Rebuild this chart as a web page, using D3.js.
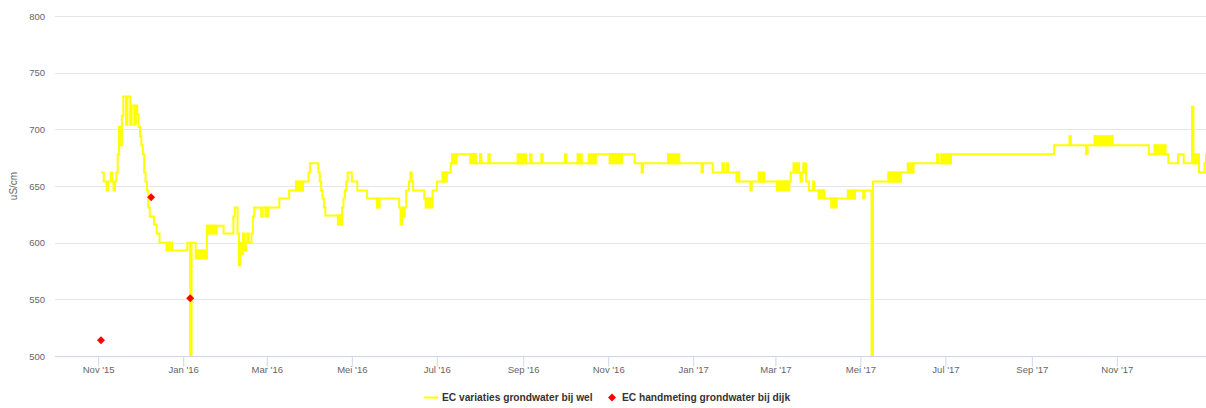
<!DOCTYPE html>
<html><head><meta charset="utf-8">
<script src="https://cdn.jsdelivr.net/npm/d3@7"></script>
<style>body{margin:0;background:#fff}svg{display:block}</style>
</head><body>
<svg id="chart" width="1206" height="408"></svg>
<script>
// ---- data ----
const wellSeries = [
["2015-11-03",662],["2015-11-05",654],["2015-11-07",646],["2015-11-08",654],["2015-11-10",662],["2015-11-11",654],["2015-11-12",646],["2015-11-13",654],["2015-11-14",662],["2015-11-15",678],["2015-11-16",702],["2015-11-17",686],["2015-11-18",712],["2015-11-19",729],["2015-11-21",704],["2015-11-22",729],["2015-11-24",704],["2015-11-25",721],["2015-11-27",704],["2015-11-28",721],["2015-11-29",713],["2015-11-30",702],
["2015-12-01",694],["2015-12-02",686],["2015-12-03",678],["2015-12-04",662],["2015-12-05",654],["2015-12-06",646],["2015-12-07",631],["2015-12-08",623],["2015-12-11",616],["2015-12-13",608],["2015-12-15",600],["2015-12-24",593],
["2016-01-04",600],["2016-01-06",500],["2016-01-07",600],["2016-01-10",593],["2016-01-18",615],["2016-01-30",608],
["2016-02-06",623],["2016-02-07",631],["2016-02-09",608],["2016-02-10",580],["2016-02-11",600],["2016-02-12",590],["2016-02-13",608],["2016-02-14",593],["2016-02-15",600],["2016-02-16",608],["2016-02-17",600],["2016-02-19",608],["2016-02-20",623],["2016-02-21",631],["2016-02-26",623],["2016-02-27",631],
["2016-03-10",639],["2016-03-17",646],["2016-03-27",654],["2016-03-31",662],["2016-04-01",670],["2016-04-07",662],["2016-04-08",654],["2016-04-09",646],["2016-04-10",639],["2016-04-11",631],["2016-04-12",624],["2016-04-24",631],["2016-04-25",639],["2016-04-26",646],["2016-04-27",654],["2016-04-28",662],
["2016-05-01",654],["2016-05-05",646],["2016-05-12",639],["2016-06-04",631],["2016-06-05",616],["2016-06-06",631],["2016-06-07",623],["2016-06-08",631],["2016-06-09",646],["2016-06-11",654],["2016-06-12",662],["2016-06-13",654],["2016-06-14",646],["2016-06-22",639],["2016-06-28",646],
["2016-07-01",654],["2016-07-08",662],["2016-07-11",670],["2016-07-15",678],["2016-07-29",670],["2016-08-01",678],["2016-08-02",670],["2016-08-07",678],["2016-08-08",670],["2016-09-06",678],["2016-09-07",670],["2016-09-14",678],["2016-09-15",670],["2016-10-01",678],["2016-10-02",670],["2016-10-23",678],["2016-11-20",670],["2016-11-25",662],["2016-11-26",670],
["2017-01-07",662],["2017-01-08",670],["2017-01-15",662],["2017-01-22",670],["2017-01-23",662],["2017-01-25",670],["2017-01-26",662],["2017-02-03",654],["2017-02-11",646],["2017-02-12",654],["2017-03-12",662],["2017-03-19",654],["2017-03-20",662],["2017-03-23",654],["2017-03-25",646],["2017-03-28",654],["2017-03-29",646],["2017-04-05",639],["2017-04-27",646],
["2017-05-03",639],["2017-05-04",646],["2017-05-09",500],["2017-05-10",654],["2017-05-30",662],["2017-06-08",670],["2017-06-25",678],["2017-06-26",670],["2017-07-05",678],["2017-09-17",686],["2017-09-28",694],["2017-09-29",686],["2017-10-10",678],["2017-10-11",686],["2017-11-24",678],["2017-12-08",670],["2017-12-15",678],["2017-12-19",670],["2017-12-25",720],["2017-12-26",670],["2017-12-30",662],["2018-01-03",670],["2018-01-04",678]
];
// stretches where the logger flickers between two adjacent levels: [start, end, low, high]
const wellFlicker = [
["2015-12-20","2015-12-24",593,600],["2016-01-10","2016-01-18",586,593],["2016-01-19","2016-01-25",608,615],["2016-02-29","2016-03-02",623,631],
["2016-03-22","2016-03-27",646,654],["2016-04-21","2016-04-24",616,624],["2016-05-19","2016-05-21",631,639],["2016-06-23","2016-06-28",631,639],
["2016-07-05","2016-07-08",654,662],["2016-07-12","2016-07-15",670,678],["2016-07-25","2016-07-29",670,678],["2016-08-28","2016-09-03",670,678],
["2016-10-10","2016-10-13",670,678],["2016-10-18","2016-10-23",670,678],["2016-11-02","2016-11-11",670,678],["2016-12-14","2016-12-22",670,678],
["2017-02-01","2017-02-03",654,662],["2017-02-17","2017-02-21",654,662],["2017-03-02","2017-03-11",646,654],["2017-03-14","2017-03-18",662,670],
["2017-03-21","2017-03-23",662,670],["2017-04-01","2017-04-05",639,646],["2017-04-10","2017-04-14",631,639],["2017-04-22","2017-04-27",639,646],
["2017-05-21","2017-05-30",654,662],["2017-06-04","2017-06-08",662,670],["2017-06-28","2017-07-05",670,678],["2017-10-16","2017-10-29",686,694],
["2017-11-28","2017-12-06",678,686],["2017-12-27","2017-12-30",670,678]
];
const dykeDates = ["2015-11-03","2015-12-09","2016-01-06"];
const dykeValues = [514, 640, 551];
const yTicks = [500, 550, 600, 650, 700, 750, 800];
const xTickDates = ["2015-11-01","2016-01-01","2016-03-01","2016-05-01","2016-07-01","2016-09-01","2016-11-01","2017-01-01","2017-03-01","2017-05-01","2017-07-01","2017-09-01","2017-11-01"];
const xTickLabels = ["Nov '15","Jan '16","Mar '16","Mei '16","Jul '16","Sep '16","Nov '16","Jan '17","Mar '17","Mei '17","Jul '17","Sep '17","Nov '17"];
const xDomain = ["2015-10-01","2018-01-04"];
const yDomain = [500, 800];
const seriesNames = ["EC variaties grondwater bij wel", "EC handmeting grondwater bij dijk"];
const yTitle = "uS/cm";

// ---- drawing ----
const parse = d3.utcParse("%Y-%m-%d");
const svg = d3.select("#chart");
const L = 55, R = 1206, T = 16, B = 356;
const font = "'Liberation Sans', Arial, sans-serif";
const yellow = "#ffff00";

const x = d3.scaleUtc().domain(xDomain.map(parse)).range([L, R]);
const y = d3.scaleLinear().domain(yDomain).range([B, T]);

svg.append("defs").append("clipPath").attr("id", "clip")
  .append("rect").attr("x", L).attr("y", T - 2).attr("width", R - L).attr("height", B - T + 2);

// grid
svg.append("g").selectAll("line").data(yTicks.filter(v => v !== 500)).join("line")
  .attr("x1", L).attr("x2", R).attr("y1", d => Math.round(y(d)) + 0.5).attr("y2", d => Math.round(y(d)) + 0.5)
  .attr("stroke", "#e6e6e6").attr("stroke-width", 1);

// y labels
svg.append("g").selectAll("text").data(yTicks).join("text")
  .attr("x", 45).attr("y", d => y(d) + 3.5).attr("text-anchor", "end")
  .attr("font-family", font).attr("font-size", "9.5px").attr("fill", "#666").text(d => d);

svg.append("text").attr("transform", `translate(17,${(T + B) / 2}) rotate(-90)`)
  .attr("text-anchor", "middle").attr("font-family", font).attr("font-size", "10px").attr("fill", "#666").text(yTitle);

// x axis
const xAxis = d3.axisBottom(x).tickValues(xTickDates.map(parse))
  .tickFormat((d, i) => xTickLabels[i]).tickSize(10).tickSizeOuter(0);
const gx = svg.append("g").attr("transform", `translate(0,${B + 0.5})`).call(xAxis);
gx.select(".domain").attr("stroke", "#ccd6eb").attr("d", `M${L},0H${R}`);
gx.selectAll(".tick line").attr("stroke", "#ccd6eb");
gx.selectAll(".tick text").attr("font-family", font).attr("font-size", "9.5px").attr("fill", "#666").attr("dy", "0.35em").attr("y", 13);

const plot = svg.append("g").attr("clip-path", "url(#clip)");

// flicker bands
plot.append("g").selectAll("rect").data(wellFlicker).join("rect")
  .attr("x", d => x(parse(d[0]))).attr("width", d => x(parse(d[1])) - x(parse(d[0])))
  .attr("y", d => y(d[3])).attr("height", d => y(d[2]) - y(d[3]))
  .attr("fill", yellow).attr("stroke", yellow).attr("stroke-width", 2);

// line
const line = d3.line().curve(d3.curveStepAfter).x(d => x(parse(d[0]))).y(d => y(d[1]));
plot.append("path").datum(wellSeries).attr("d", line)
  .attr("fill", "none").attr("stroke", yellow).attr("stroke-width", 2).attr("stroke-linejoin", "miter");

// dyke measurements (Highcharts-style square diamond)
const diamondPath = "M0,-4L4,0L0,4L-4,0Z";
svg.append("g").selectAll("path").data(dykeDates).join("path")
  .attr("transform", (d, i) => `translate(${x(parse(d))},${y(dykeValues[i])})`)
  .attr("d", diamondPath).attr("fill", "#ff0000");

// legend
const lg = svg.append("g");
lg.append("line").attr("x1", 424).attr("x2", 438).attr("y1", 397.5).attr("y2", 397.5).attr("stroke", yellow).attr("stroke-width", 2);
lg.append("text").attr("x", 442).attr("y", 401).attr("font-family", font).attr("font-size", "10.2px").attr("font-weight", "bold").attr("fill", "#333").text(seriesNames[0]);
lg.append("path").attr("transform", "translate(612,397.5)").attr("d", diamondPath).attr("fill", "#ff0000");
lg.append("text").attr("x", 622).attr("y", 401).attr("font-family", font).attr("font-size", "10.2px").attr("font-weight", "bold").attr("fill", "#333").text(seriesNames[1]);
</script>
</body></html>
